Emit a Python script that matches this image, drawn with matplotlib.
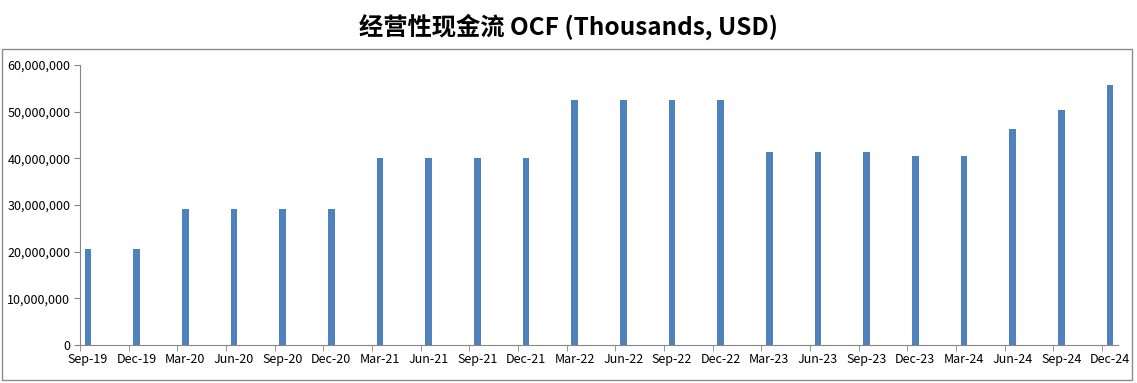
import matplotlib.pyplot as plt
from matplotlib.patches import Rectangle
from matplotlib.ticker import FuncFormatter

plt.rcParams['font.family'] = ['Noto Sans CJK SC', 'DejaVu Sans']

quarters = ['Sep-19', 'Dec-19', 'Mar-20', 'Jun-20', 'Sep-20', 'Dec-20',
            'Mar-21', 'Jun-21', 'Sep-21', 'Dec-21', 'Mar-22', 'Jun-22',
            'Sep-22', 'Dec-22', 'Mar-23', 'Jun-23', 'Sep-23', 'Dec-23',
            'Mar-24', 'Jun-24', 'Sep-24', 'Dec-24']
ocf = [20.5e6, 20.5e6, 29.2e6, 29.2e6, 29.2e6, 29.2e6,
       40.0e6, 40.0e6, 40.0e6, 40.0e6, 52.5e6, 52.5e6,
       52.5e6, 52.5e6, 41.4e6, 41.4e6, 41.4e6, 40.5e6,
       40.5e6, 46.3e6, 50.3e6, 55.7e6]
title = '经营性现金流 OCF (Thousands, USD)'

fig = plt.figure(figsize=(11.37, 3.83), dpi=100)
# outer chart frame
fig.patches.append(Rectangle((0.002, 0.008), 0.994, 0.865, transform=fig.transFigure,
                             fill=False, edgecolor='#8c8c8c', linewidth=1.0))
ax = fig.add_axes([80 / 1137, 1 - 345 / 383, (1118 - 80) / 1137, (345 - 65) / 383])

x = list(range(len(quarters)))
ax.bar(x, ocf, width=0.135, color='#4f81bd')

# ticks sit a bit left of each bar, like the Excel date axis
off = 0.165
ax.set_xlim(-off, len(quarters) - 1 + off)
ax.set_ylim(0, 60e6)
ax.set_xticks(x)
ax.set_xticklabels(quarters)
ax.set_xticks([i - off for i in x], minor=True)
ax.tick_params(axis='x', which='major', length=0, pad=6)
ax.tick_params(axis='x', which='minor', length=4, color='#868686', direction='out')
ax.set_yticks(range(0, 60000001, 10000000))
ax.yaxis.set_major_formatter(FuncFormatter(lambda v, p: f'{int(v):,}'))
ax.tick_params(axis='y', length=4, color='#868686', direction='out', pad=3)
ax.tick_params(labelsize=9)

for s in ['top', 'right']:
    ax.spines[s].set_visible(False)
for s in ['left', 'bottom']:
    ax.spines[s].set_color('#868686')

fig.text(0.5, 0.93, title, ha='center', va='center', fontsize=17.5, fontweight='bold')

fig.savefig('out.png', dpi=100)
